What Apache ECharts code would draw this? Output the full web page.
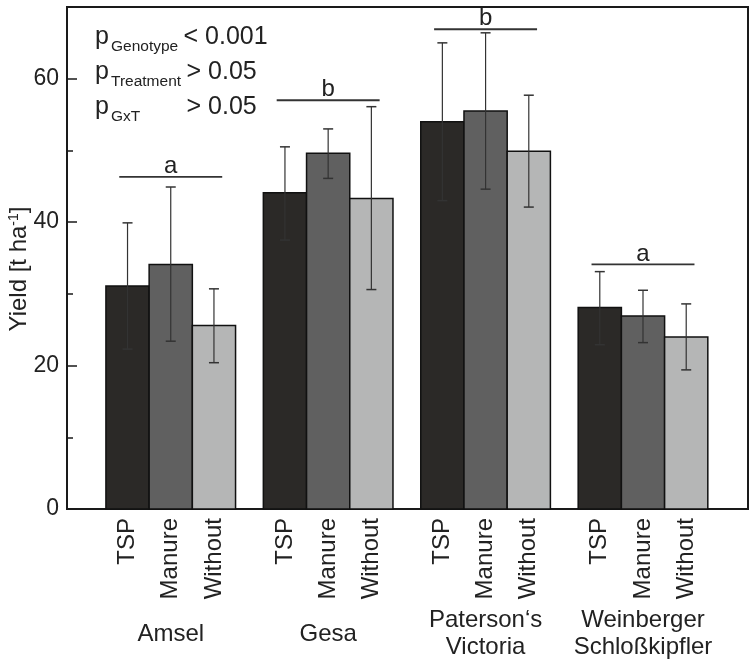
<!DOCTYPE html>
<html>
<head>
<meta charset="utf-8">
<script src="https://cdn.jsdelivr.net/npm/echarts@6/dist/echarts.min.js"></script>
<style>html,body{margin:0;padding:0;background:#fff;}#c{width:752px;height:663px;}</style>
</head>
<body>
<div id="c"></div>
<script>
const genotypes = ['Amsel', 'Gesa', 'Paterson\u2018s\nVictoria', 'Weinberger\nSchloßkipfler'];
const treatments = ['TSP', 'Manure', 'Without'];
const tspMean = [31.1, 44.1, 54.0, 28.1];
const tspLow = [22.3, 37.5, 43.0, 22.9];
const tspHigh = [39.9, 50.5, 65.0, 33.1];
const manureMean = [34.1, 49.6, 55.5, 26.9];
const manureLow = [23.4, 46.1, 44.6, 23.2];
const manureHigh = [44.9, 53.0, 66.4, 30.5];
const withoutMean = [25.6, 43.3, 49.9, 24.0];
const withoutLow = [20.4, 30.6, 42.1, 19.4];
const withoutHigh = [30.7, 56.1, 57.7, 28.6];
const sigLevel = [46.3, 57.0, 66.9, 34.1];
const sigLetter = ['a', 'b', 'b', 'a'];
const yMin = 0, yMax = 70, yMajor = 20, yMinor = 10;

const FONT = '"Liberation Sans", Arial, Helvetica, sans-serif';
const TXT = '#222';
const BAR_W = 0.2745;
const SIG_HALF = 0.327;
const colors = ['#2b2927', '#606060', '#b5b6b6'];

function barSeries(t, means, lows, highs) {
  return {
    type: 'custom',
    name: treatments[t],
    xAxisIndex: 0, yAxisIndex: 0,
    data: means.map((m, g) => [g, m, lows[g], highs[g]]),
    encode: { x: 0, y: 1 },
    z: 3,
    renderItem: function (params, api) {
      const g = api.value(0), m = api.value(1), lo = api.value(2), hi = api.value(3);
      const xc = g + (t - 1) * BAR_W;
      const p0 = api.coord([xc - BAR_W / 2, m]);
      const p1 = api.coord([xc + BAR_W / 2, 0]);
      const pc = api.coord([xc, 0]);
      const pl = api.coord([xc, lo]);
      const ph = api.coord([xc, hi]);
      const cap = 5;
      return {
        type: 'group',
        children: [
          { type: 'rect', shape: { x: p0[0], y: p0[1], width: p1[0] - p0[0], height: p1[1] - p0[1] },
            style: { fill: colors[t], stroke: '#111', lineWidth: 1.5 } },
          { type: 'line', shape: { x1: pc[0], y1: pl[1], x2: pc[0], y2: ph[1] }, style: { stroke: '#333', lineWidth: 1.2 } },
          { type: 'line', shape: { x1: pc[0] - cap, y1: pl[1], x2: pc[0] + cap, y2: pl[1] }, style: { stroke: '#333', lineWidth: 1.5 } },
          { type: 'line', shape: { x1: pc[0] - cap, y1: ph[1], x2: pc[0] + cap, y2: ph[1] }, style: { stroke: '#333', lineWidth: 1.5 } },
          { type: 'text', x: pc[0], y: pc[1] + 9, rotation: Math.PI / 2,
            style: { text: treatments[t], align: 'right', verticalAlign: 'middle', fontSize: 24, fontFamily: FONT, fill: TXT } }
        ]
      };
    }
  };
}

const option = {
  animation: false,
  backgroundColor: '#fff',
  grid: { left: 67, right: 4, top: 7, bottom: 154, containLabel: false, outerBoundsMode: 'none',
    show: true, borderColor: '#1a1a1a', borderWidth: 2, backgroundColor: 'transparent' },
  xAxis: [{
    type: 'value', min: -0.659, max: 3.667,
    axisLine: { show: false, onZero: false }, axisTick: { show: false }, axisLabel: { show: false }, splitLine: { show: false }
  }],
  yAxis: [{
    type: 'value', min: yMin, max: yMax, interval: yMajor, position: 'left',
    name: 'Yield [t ha{sup|-1}]', nameLocation: 'middle', nameGap: 36, nameMoveOverlap: false,
    nameTextStyle: { fontSize: 24, fontFamily: FONT, color: TXT, padding: [0, 22, 0, 0],
      rich: { sup: { fontSize: 14, fontFamily: FONT, color: TXT, verticalAlign: 'top', padding: [0, 0, 8, 0] } } },
    axisLine: { show: true, onZero: false, lineStyle: { color: '#1a1a1a', width: 2 } },
    axisTick: { show: true, inside: true, length: 10, lineStyle: { color: '#1a1a1a', width: 1.5 } },
    axisLabel: { fontSize: 23, fontFamily: FONT, color: TXT, margin: 8, showMaxLabel: false },
    splitLine: { show: false }
  }, {
    type: 'value', min: yMin, max: yMax, interval: yMinor, position: 'left',
    axisLine: { show: false, onZero: false },
    axisTick: { show: true, inside: true, length: 6, lineStyle: { color: '#1a1a1a', width: 1.5 } },
    axisLabel: { show: false }, splitLine: { show: false }
  }],
  graphic: [
    { type: 'text', x: 95, y: 37, style: { text: 'p', fontSize: 25, fontFamily: FONT, fill: TXT, verticalAlign: 'middle' } },
    { type: 'text', x: 111, y: 47, style: { text: 'Genotype', fontSize: 15.5, fontFamily: FONT, fill: TXT, verticalAlign: 'middle' } },
    { type: 'text', x: 183.5, y: 37, style: { text: '< 0.001', fontSize: 25, fontFamily: FONT, fill: TXT, verticalAlign: 'middle' } },
    { type: 'text', x: 95, y: 72, style: { text: 'p', fontSize: 25, fontFamily: FONT, fill: TXT, verticalAlign: 'middle' } },
    { type: 'text', x: 111, y: 82, style: { text: 'Treatment', fontSize: 15.5, fontFamily: FONT, fill: TXT, verticalAlign: 'middle' } },
    { type: 'text', x: 186.5, y: 72, style: { text: '> 0.05', fontSize: 25, fontFamily: FONT, fill: TXT, verticalAlign: 'middle' } },
    { type: 'text', x: 95, y: 107, style: { text: 'p', fontSize: 25, fontFamily: FONT, fill: TXT, verticalAlign: 'middle' } },
    { type: 'text', x: 111, y: 117, style: { text: 'GxT', fontSize: 15.5, fontFamily: FONT, fill: TXT, verticalAlign: 'middle' } },
    { type: 'text', x: 186.5, y: 107, style: { text: '> 0.05', fontSize: 25, fontFamily: FONT, fill: TXT, verticalAlign: 'middle' } }
  ],
  series: [
    barSeries(0, tspMean, tspLow, tspHigh),
    barSeries(1, manureMean, manureLow, manureHigh),
    barSeries(2, withoutMean, withoutLow, withoutHigh),
    {
      type: 'custom', name: 'significance', z: 4,
      data: sigLevel.map((v, g) => [g, v]),
      encode: { x: 0, y: 1 },
      renderItem: function (params, api) {
        const g = api.value(0), v = api.value(1);
        const a = api.coord([g - SIG_HALF, v]);
        const b = api.coord([g + SIG_HALF, v]);
        return {
          type: 'group',
          children: [
            { type: 'line', shape: { x1: a[0], y1: a[1], x2: b[0], y2: b[1] }, style: { stroke: '#333', lineWidth: 1.8 } },
            { type: 'text', x: (a[0] + b[0]) / 2, y: a[1] - 10.5,
              style: { text: sigLetter[params.dataIndex], align: 'center', verticalAlign: 'middle', fontSize: 24, fontFamily: FONT, fill: TXT } }
          ]
        };
      }
    },
    {
      type: 'custom', name: 'genotype', z: 4,
      data: genotypes.map((n, g) => [g, 0]),
      encode: { x: 0, y: 1 },
      renderItem: function (params, api) {
        const p = api.coord([api.value(0), 0]);
        return { type: 'text', x: p[0], y: p[1] + 125,
          style: { text: genotypes[params.dataIndex], align: 'center', verticalAlign: 'middle', fontSize: 24, lineHeight: 27, fontFamily: FONT, fill: TXT } };
      }
    }
  ]
};

const chart = echarts.init(document.getElementById('c'), null, { renderer: 'canvas' });
chart.setOption(option);
</script>
</body>
</html>
